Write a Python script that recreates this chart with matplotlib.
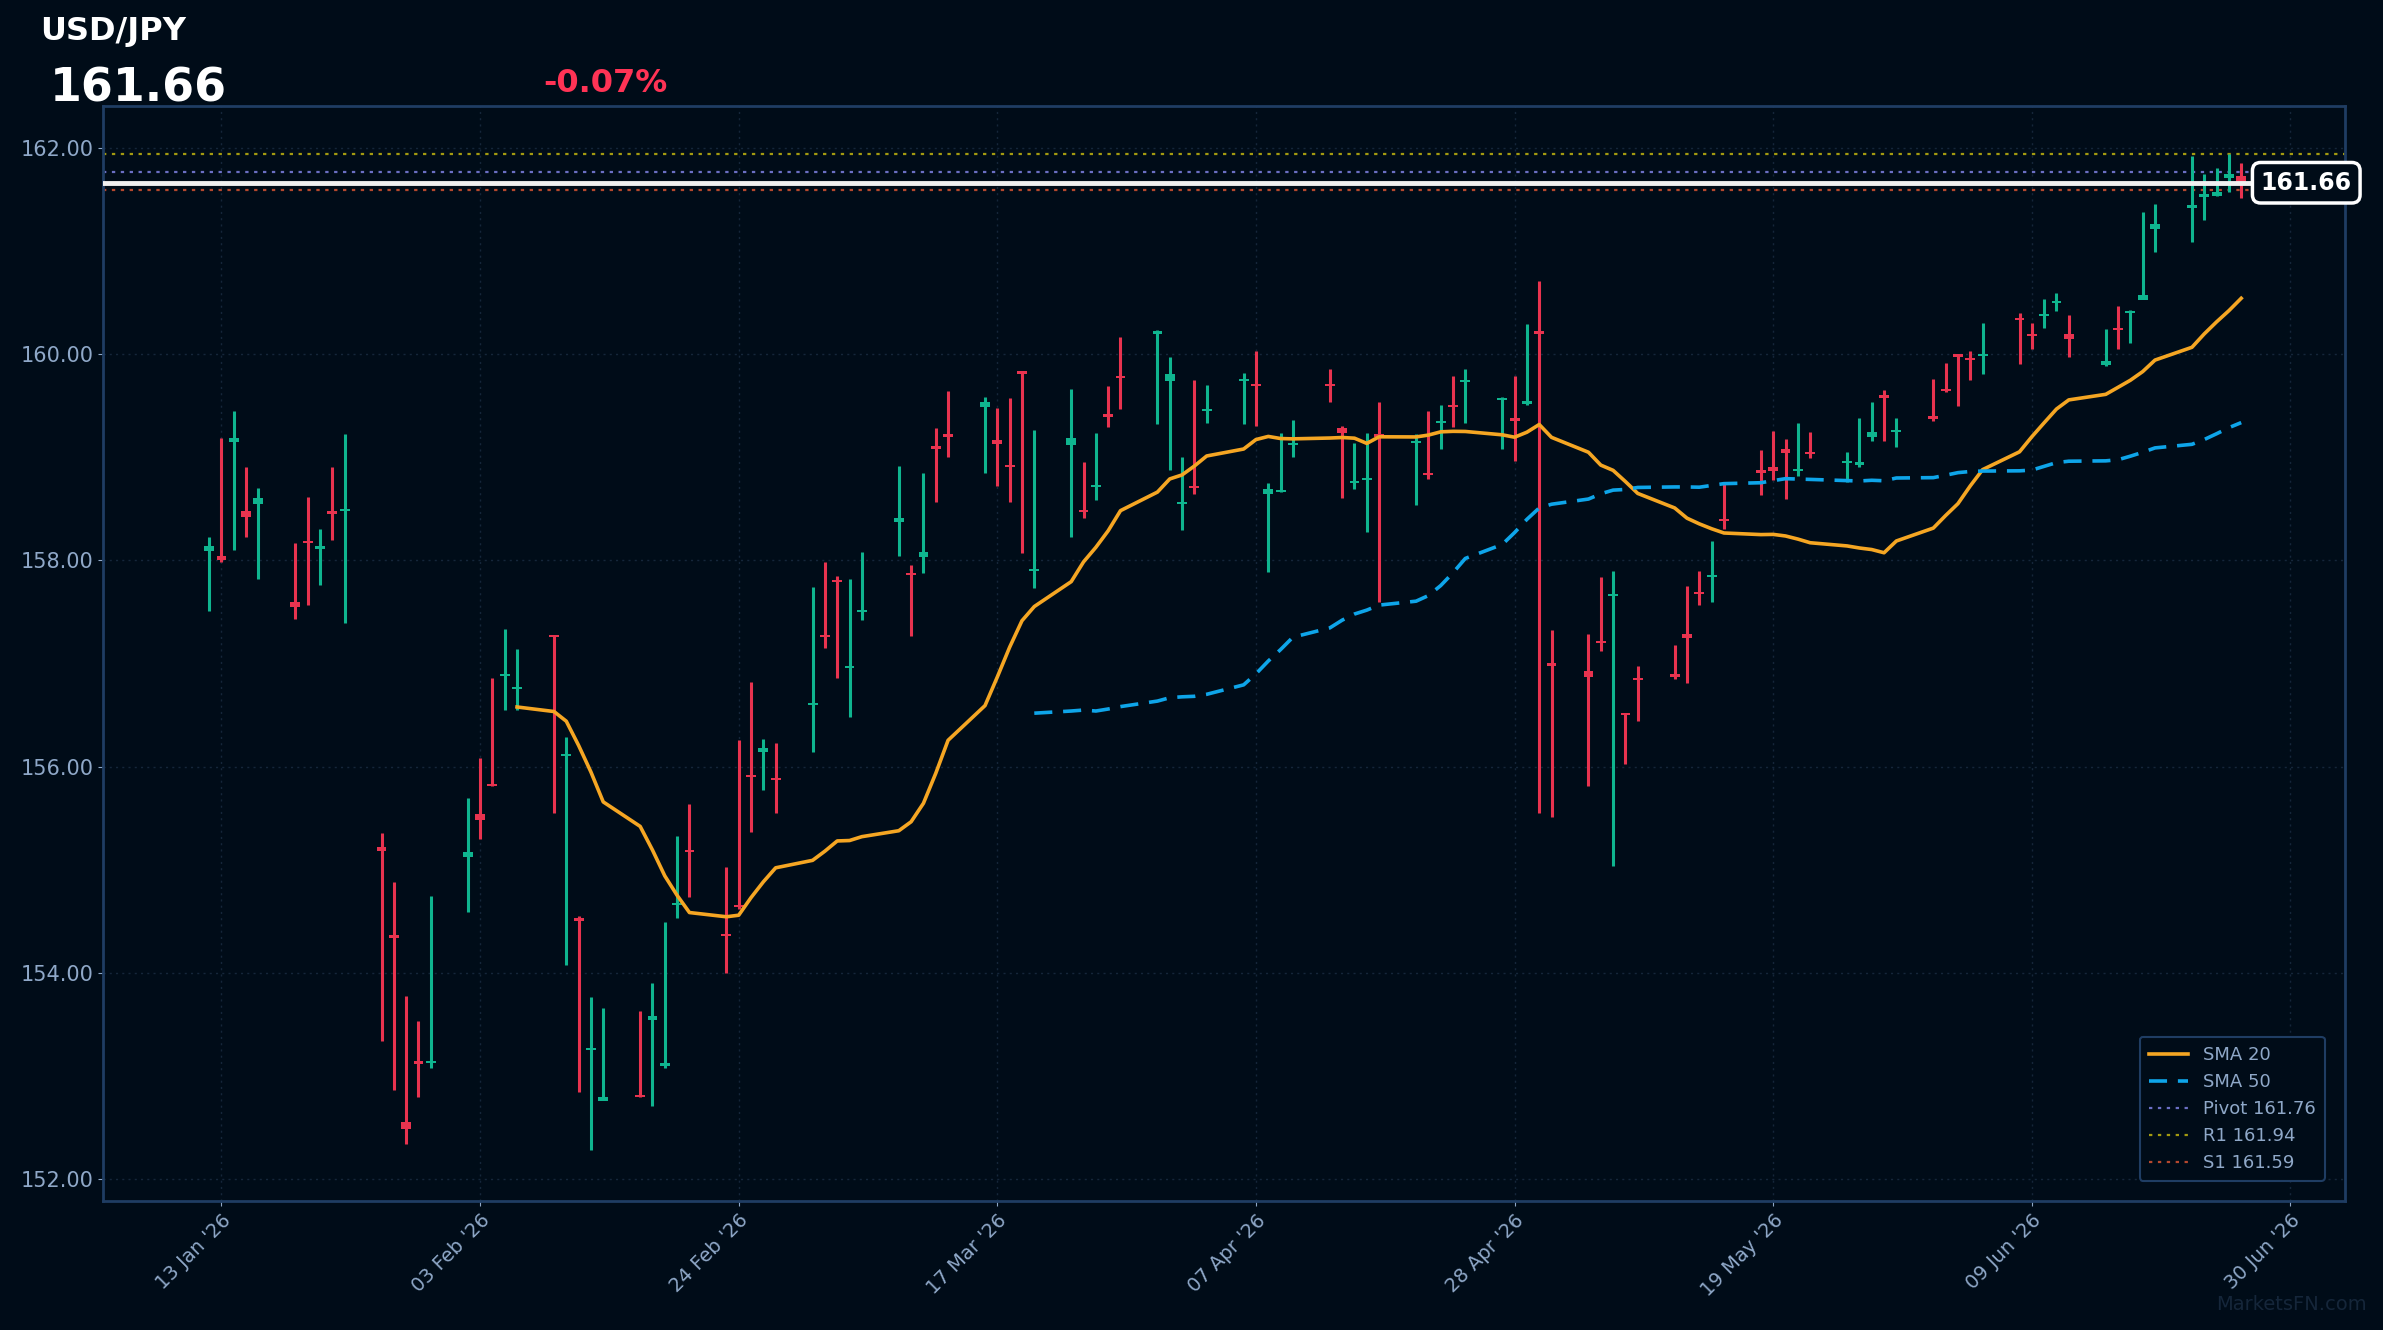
import matplotlib
matplotlib.use("Agg")
import matplotlib.pyplot as plt
import matplotlib.dates as mdates
import pandas as pd
import numpy as np

# daily USD/JPY candles, business days from 12 Jan 2026
start_day = "2026-01-12"
opens = [158.09, 158.04, 159.15, 158.48, 158.55, 157.60, 158.19, 158.11, 158.48, 158.48,
         155.22, 154.37, 152.56, 153.15, 153.13, 155.12, 155.54, 155.83, 156.88, 156.75,
         157.28, 156.10, 154.53, 153.25, 152.76, 152.82, 153.54, 153.10, 154.66, 155.19,
         154.38, 154.66, 155.92, 156.14, 155.89, 156.60, 157.28, 157.81, 156.96, 157.50,
         158.37, 157.88, 158.03, 159.11, 159.21, 159.49, 159.17, 158.92, 159.84, 157.90,
         159.12, 158.49, 158.71, 159.42, 159.78, 160.19, 159.74, 158.55, 158.72, 159.45,
         159.74, 159.71, 158.64, 158.66, 159.12, 159.71, 159.28, 158.75, 158.78, 159.22,
         159.14, 158.85, 159.33, 159.50, 159.73, 159.55, 159.38, 159.52, 160.22, 157.00,
         156.93, 157.22, 157.65, 156.52, 156.86, 156.90, 157.29, 157.69, 157.84, 158.40,
         158.88, 158.90, 159.08, 158.87, 159.05, 158.94, 158.92, 159.20, 159.60, 159.24,
         159.40, 159.66, 160.00, 159.96, 159.98, 160.35, 160.18, 160.37, 160.49, 160.19,
         159.89, 160.25, 160.40, 160.52, 161.21, 161.42, 161.52, 161.53, 161.71, 161.73]
highs = [158.23, 159.19, 159.45, 158.90, 158.70, 158.17, 158.61, 158.30, 158.90, 159.22,
         155.36, 154.88, 153.78, 153.53, 154.75, 155.70, 156.08, 156.86, 157.33, 157.14,
         157.27, 156.29, 154.55, 153.77, 153.66, 153.63, 153.90, 154.49, 155.33, 155.64,
         155.03, 156.26, 156.82, 156.27, 156.23, 157.74, 157.98, 157.85, 157.82, 158.08,
         158.91, 157.95, 158.85, 159.28, 159.64, 159.58, 159.48, 159.57, 159.82, 159.26,
         159.66, 158.95, 159.23, 159.69, 160.16, 160.23, 159.97, 159.00, 159.75, 159.70,
         159.82, 160.03, 158.75, 159.23, 159.36, 159.85, 159.30, 159.14, 159.23, 159.53,
         159.22, 159.45, 159.51, 159.79, 159.85, 159.58, 159.79, 160.29, 160.71, 157.32,
         157.29, 157.84, 157.90, 156.52, 156.98, 157.18, 157.75, 157.90, 158.19, 158.74,
         159.07, 159.25, 159.18, 159.33, 159.24, 159.05, 159.38, 159.53, 159.65, 159.38,
         159.76, 159.91, 160.00, 160.03, 160.30, 160.40, 160.30, 160.53, 160.59, 160.38,
         160.24, 160.47, 160.43, 161.38, 161.45, 161.92, 161.74, 161.80, 161.94, 161.85]
lows = [157.51, 157.98, 158.10, 158.23, 157.82, 157.43, 157.57, 157.76, 158.20, 157.39,
        153.34, 152.87, 152.34, 152.80, 153.08, 154.59, 155.30, 155.81, 156.55, 156.55,
        155.55, 154.08, 152.85, 152.28, 152.78, 152.80, 152.71, 153.08, 154.53, 154.74,
        154.00, 154.62, 155.37, 155.77, 155.55, 156.14, 157.15, 156.86, 156.48, 157.42,
        158.04, 157.27, 157.88, 158.57, 159.00, 158.85, 158.72, 158.57, 158.07, 157.73,
        158.23, 158.41, 158.58, 159.29, 159.47, 159.32, 158.88, 158.29, 158.64, 159.33,
        159.32, 159.30, 157.89, 158.66, 159.00, 159.53, 158.60, 158.69, 158.27, 157.60,
        158.54, 158.79, 159.08, 159.29, 159.33, 159.08, 158.96, 159.51, 155.55, 155.51,
        155.81, 157.12, 155.04, 156.03, 156.44, 156.85, 156.81, 157.57, 157.60, 158.30,
        158.63, 158.78, 158.59, 158.82, 158.99, 158.76, 158.90, 159.16, 159.16, 159.10,
        159.35, 159.63, 159.50, 159.75, 159.81, 159.90, 160.05, 160.25, 160.42, 159.97,
        159.88, 160.05, 160.11, 160.53, 160.99, 161.09, 161.30, 161.53, 161.57, 161.51]
closes = [158.14, 158.00, 159.19, 158.42, 158.60, 157.55, 158.17, 158.14, 158.45, 158.50,
          155.18, 154.34, 152.49, 153.12, 153.15, 155.17, 155.48, 155.81, 156.90, 156.77,
          157.26, 156.12, 154.50, 153.27, 152.80, 152.80, 153.58, 153.13, 154.68, 155.17,
          154.36, 154.64, 155.90, 156.18, 155.87, 156.62, 157.26, 157.79, 156.98, 157.52,
          158.41, 157.86, 158.08, 159.08, 159.20, 159.53, 159.13, 158.90, 159.81, 157.92,
          159.19, 158.47, 158.72, 159.39, 159.77, 160.22, 159.81, 158.57, 158.70, 159.47,
          159.76, 159.69, 158.69, 158.67, 159.14, 159.69, 159.23, 158.77, 158.80, 159.20,
          159.16, 158.83, 159.35, 159.49, 159.74, 159.57, 159.35, 159.54, 160.19, 156.98,
          156.87, 157.20, 157.67, 156.50, 156.84, 156.87, 157.25, 157.67, 157.85, 158.38,
          158.85, 158.87, 159.04, 158.89, 159.03, 158.95, 158.95, 159.24, 159.57, 159.26,
          159.37, 159.64, 159.97, 159.94, 159.99, 160.33, 160.17, 160.38, 160.51, 160.15,
          159.93, 160.23, 160.41, 160.57, 161.26, 161.43, 161.55, 161.57, 161.74, 161.66]

last_price = 161.66
pct_change = "-0.07%"
pivot, r1, s1 = 161.76, 161.94, 161.59

bg = "#000c18"
up_col = "#0fb58f"
dn_col = "#e8334f"
txt_col = "#8fa8c8"

df = pd.DataFrame({"open": opens, "high": highs, "low": lows, "close": closes},
                  index=pd.bdate_range(start_day, periods=len(closes)))
sma20 = df["close"].rolling(20).mean()
sma50 = df["close"].rolling(50).mean()

fig = plt.figure(figsize=(23.83, 13.30), dpi=100, facecolor=bg)
ax = fig.add_axes([0.0434, 0.097, 0.9406, 0.823], facecolor=bg)

x = mdates.date2num(df.index)
up = df["close"] >= df["open"]
for xi, o, h, l, c, u in zip(x, df["open"], df["high"], df["low"], df["close"], up):
    col = up_col if u else dn_col
    ax.vlines(xi, l, h, color=col, lw=2.2, zorder=3)
    lo_b = min(o, c)
    hgt = max(abs(c - o), 0.02)
    ax.bar(xi, hgt, bottom=lo_b, width=0.8, color=col, zorder=4)

ax.plot(x, sma20, color="#f5a623", lw=2.6, label="SMA 20", zorder=5)
ax.plot(x, sma50, color="#0ea5e9", lw=2.6, ls=(0, (5, 3)), label="SMA 50", zorder=5)
ax.axhline(pivot, color="#6b6fc4", lw=1.6, ls=(0, (1.5, 2.5)), label=f"Pivot {pivot:.2f}")
ax.axhline(r1, color="#a39a10", lw=1.6, ls=(0, (1.5, 2.5)), label=f"R1 {r1:.2f}")
ax.axhline(s1, color="#b5482e", lw=1.6, ls=(0, (1.5, 2.5)), label=f"S1 {s1:.2f}")
ax.axhline(last_price, color="#f0f0f0", lw=3.5, zorder=6)

ax.set_ylim(151.79, 162.40)
ax.set_xlim(mdates.date2num(pd.Timestamp("2026-01-03 10:00")),
            mdates.date2num(pd.Timestamp("2026-07-04 10:00")))
tick_dates = pd.date_range("2026-01-13", "2026-06-30", freq="21D")
ax.set_xticks(mdates.date2num(tick_dates))
ax.set_xticklabels([d.strftime("%d %b '%y") for d in tick_dates], rotation=45,
                   ha="right", rotation_mode="anchor", color=txt_col, fontsize=14)
ax.set_yticks([152, 154, 156, 158, 160, 162])
ax.yaxis.set_major_formatter(plt.FuncFormatter(lambda v, p: f"{v:.2f}"))
ax.tick_params(axis="y", colors=txt_col, labelsize=15)
ax.tick_params(axis="x", colors=txt_col)
ax.grid(True, color="#15263a", lw=1, ls=(0, (1.5, 3)))
for s in ax.spines.values():
    s.set_color("#1f3d63")
    s.set_linewidth(2)

leg = ax.legend(loc="lower right", fontsize=13, facecolor=bg, edgecolor="#1f3d63",
                labelcolor=txt_col, framealpha=1, borderpad=0.5, handlelength=2.2,
                bbox_to_anchor=(0.995, 0.01))
leg.get_frame().set_linewidth(1.5)

# price tag on right edge
ax.annotate(f"{last_price:.2f}", xy=(1.0, last_price), xycoords=("axes fraction", "data"),
            xytext=(5, 0), textcoords="offset points", ha="right", va="center",
            fontsize=17, fontweight="bold", color="white", zorder=10, annotation_clip=False,
            bbox=dict(boxstyle="round,pad=0.35", fc=bg, ec="white", lw=2.5))

fig.text(0.017, 0.988, "USD/JPY", color="white", fontsize=23, fontweight="bold", va="top")
fig.text(0.021, 0.933, f"{last_price:.2f}", color="white", fontsize=33, fontweight="bold", va="center")
fig.text(0.228, 0.937, pct_change, color="#ff3355", fontsize=23, fontweight="bold", va="center")
fig.text(0.993, 0.012, "MarketsFN.com", color="#15263a", fontsize=14, ha="right", va="bottom")

fig.savefig("out.png", dpi=100, facecolor=bg)
